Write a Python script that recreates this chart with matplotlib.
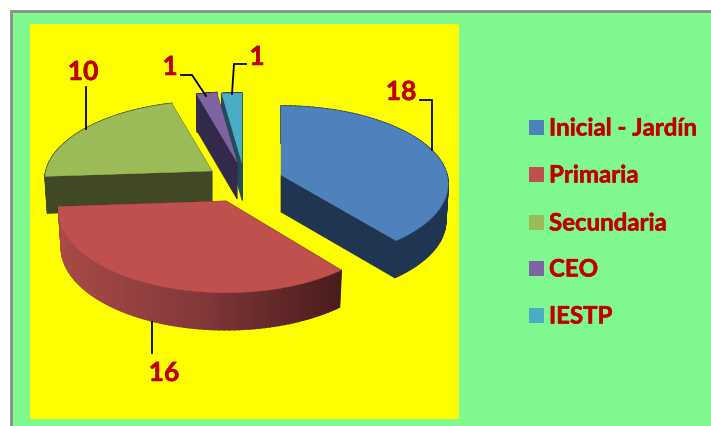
import numpy as np
import matplotlib
matplotlib.use("Agg")
import matplotlib.pyplot as plt
import matplotlib.patheffects as pe
from matplotlib.colors import LinearSegmentedColormap
from matplotlib.patches import Rectangle

# data
categories = ["Inicial - Jardín", "Primaria", "Secundaria", "CEO", "IESTP"]
values = [18, 16, 10, 1, 1]

# colours
top_colors = ["#4F81BD", "#C0504D", "#9BBB59", "#8064A2", "#4BACC6"]
wall_colors = ["#1F3552", "#5A2220", "#404923", "#33294A", "#1F4D5A"]
text_red = "#C00000"

# apex of every exploded slice (pixels)
apex = [(281, 175), (226, 201), (212, 171), (237, 162), (242, 163)]
radius = 166
squash = [77, 81, 78, 78, 78]
persp = 0.1166
depth = 37
shrink = 0.985

red_rim = LinearSegmentedColormap.from_list("rim", ["#A84A48", "#84383A", "#4A1C1C"])
stroke = [pe.withStroke(linewidth=0.4, foreground=text_red)]


def rim_point(a, ap, k):
    X = np.cos(np.radians(a))
    Y = np.sin(np.radians(a))
    f = 1 / (1 + persp * Y)
    return ap[0] + radius * X * f, ap[1] - k * Y * f


def lower(p, ap):
    return ap[0] + shrink * (p[0] - ap[0]), p[1] + depth


def draw_slice(ax, i, a1, a2):
    ap = apex[i]
    angles = np.linspace(a1, a2, 80)
    rim = [rim_point(a, ap, squash[i]) for a in angles]
    low_apex = (ap[0], ap[1] + depth)

    # flat walls
    for p in (rim[0], rim[-1]):
        ax.fill([ap[0], p[0], lower(p, ap)[0], low_apex[0]],
                [ap[1], p[1], lower(p, ap)[1], low_apex[1]],
                color=wall_colors[i], lw=0.5)

    # outer rim, red one has the gradient
    xs = np.array([p[0] for p in rim])
    for j in range(len(rim) - 1):
        p, q = rim[j], rim[j + 1]
        c = wall_colors[i]
        if i == 1:
            c = red_rim((xs[j] - xs.min()) / (xs.max() - xs.min()))
        ax.fill([p[0], q[0], lower(q, ap)[0], lower(p, ap)[0]],
                [p[1], q[1], lower(q, ap)[1], lower(p, ap)[1]],
                color=c, lw=1.2)

    ax.fill([ap[0]] + [p[0] for p in rim], [ap[1]] + [p[1] for p in rim],
            color=top_colors[i], lw=0.3)


fig = plt.figure(figsize=(7.11, 4.26), dpi=100, facecolor="white")
ax = fig.add_axes([0, 0, 1, 1])
ax.set_xlim(0, 711)
ax.set_ylim(426, 0)
ax.axis("off")

# panels
ax.add_patch(Rectangle((11, 11), 720, 440, fc="#80F890", ec="#8C8C8C", lw=2))
ax.add_patch(Rectangle((30, 24), 429, 395, fc="#FFFF00", ec="none"))

# angles, clockwise from the top
shares = np.array(values) / sum(values) * 360
edges = 90 - np.concatenate([[0], np.cumsum(shares)])

for i in [4, 3, 2, 0, 1]:
    draw_slice(ax, i, edges[i], edges[i + 1])

# leader lines
leaders = [
    ([420, 432, 432], [100, 100, 150]),
    ([152, 152], [322, 353]),
    ([86, 86], [87, 129]),
    ([181, 192, 206], [75, 75, 96]),
    ([232, 234, 246], [94, 64, 64]),
]
for lx, ly in leaders:
    ax.plot(lx, ly, color="black", lw=1.3, solid_joinstyle="miter")

# value labels
label_pos = [(401, 92), (164, 373), (83, 72), (170, 67), (257, 57)]
for v, (x, y) in zip(values, label_pos):
    ax.text(x, y, str(v), color=text_red, family="Lato", weight="bold",
            fontsize=19, ha="center", va="center", path_effects=stroke)

# legend
legend_y = [128, 175, 223, 269, 316]
square_y = [127, 174, 222, 268, 315]
for name, c, y, sy in zip(categories, top_colors, legend_y, square_y):
    ax.add_patch(Rectangle((529, sy - 7.5), 15, 15, fc=c, ec="none"))
    ax.text(549, y, name, color=text_red, family="Lato", weight="bold",
            fontsize=17.3, ha="left", va="center", path_effects=stroke)

fig.savefig("out.png", dpi=100)
